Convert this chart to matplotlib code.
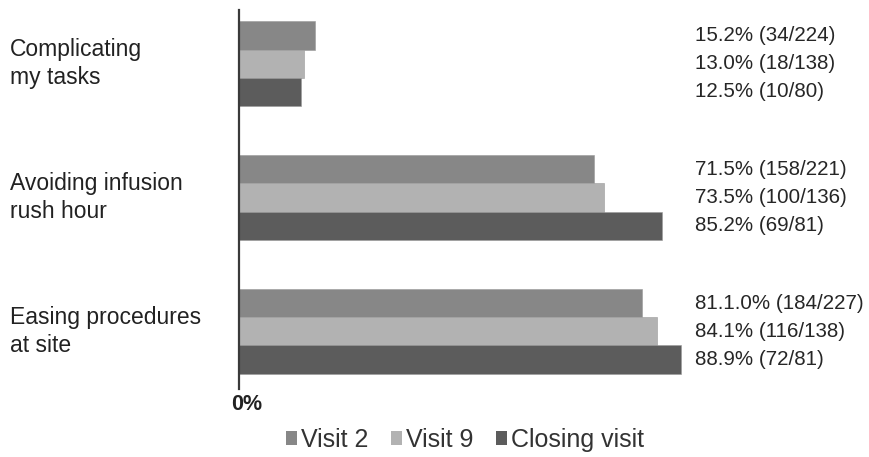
import matplotlib
matplotlib.use("Agg")
import matplotlib.pyplot as plt
import numpy as np
from matplotlib.transforms import blended_transform_factory
from matplotlib.patches import Patch

plt.rcParams['font.family'] = ['Liberation Sans', 'DejaVu Sans']

categories = ["Complicating\nmy tasks", "Avoiding infusion\nrush hour", "Easing procedures\nat site"]
series = ["Visit 2", "Visit 9", "Closing visit"]
visit2 = [15.2, 71.5, 81.1]
visit9 = [13.0, 73.5, 84.1]
closing = [12.5, 85.2, 88.9]
labels_visit2 = ["15.2% (34/224)", "71.5% (158/221)", "81.1.0% (184/227)"]
labels_visit9 = ["13.0% (18/138)", "73.5% (100/136)", "84.1% (116/138)"]
labels_closing = ["12.5% (10/80)", "85.2% (69/81)", "88.9% (72/81)"]

colors = ["#878787", "#b2b2b2", "#5c5c5c"]
values = [visit2, visit9, closing]
value_labels = [labels_visit2, labels_visit9, labels_closing]

W, H = 869, 457
fig = plt.figure(figsize=(W / 100, H / 100), dpi=100)
ax_left, ax_right = 239, 736
ax_top, ax_bottom = 10, 389
ax = fig.add_axes([ax_left / W, 1 - ax_bottom / H, (ax_right - ax_left) / W, (ax_bottom - ax_top) / H])

y = np.arange(len(categories))
bar_h = 0.21
for i, (vals, col) in enumerate(zip(values, colors)):
    ax.barh(y + (i - 1) * bar_h, vals, height=bar_h, color=col,
            edgecolor="#9a9a9a", linewidth=0.4)

ax.set_xlim(0, 100)
ax.set_ylim(2.43, -0.40)
for s in ["top", "right", "bottom"]:
    ax.spines[s].set_visible(False)
ax.spines["left"].set_color("#3a3a3a")
ax.spines["left"].set_linewidth(1.6)
ax.set_xticks([])
ax.set_yticks([])

# value annotations on the right
trans_fig_x = blended_transform_factory(fig.transFigure, ax.transData)
for i, labs in enumerate(value_labels):
    for j, lab in enumerate(labs):
        ax.text(695 / W, y[j] + (i - 1) * bar_h, lab, transform=trans_fig_x,
                ha="left", va="center", fontsize=14.8, color="#262626")

# category labels on the left
for j, cat in enumerate(categories):
    ax.text(10 / W, y[j], cat, transform=trans_fig_x, ha="left", va="center",
            fontsize=16.5, color="#222222", linespacing=1.25)

# zero tick label
fig.text(247 / W, 1 - 405 / H, "0%", ha="center", va="center",
         fontsize=15.5, fontweight="bold", color="#222222")

handles = [Patch(facecolor=c, edgecolor="none") for c in colors]
fig.legend(handles, series, loc="center", bbox_to_anchor=(465 / W, 1 - 440 / H),
           ncol=3, frameon=False, fontsize=18, handlelength=0.45, handleheight=0.45,
           handletextpad=0.15, columnspacing=0.9, labelcolor="#333333",
           borderpad=0, borderaxespad=0)

fig.savefig("out.png", dpi=100)
